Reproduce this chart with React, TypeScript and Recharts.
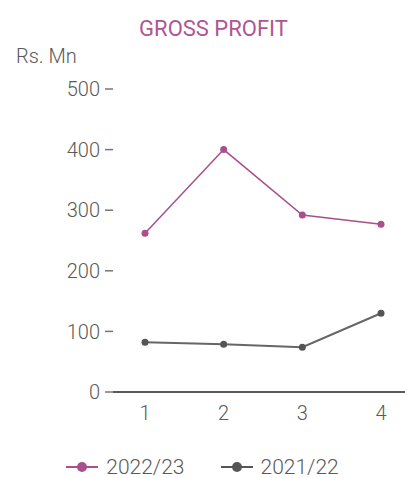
import { CartesianGrid, Legend, Line, LineChart, XAxis, YAxis } from "recharts";

const quarters = ["1", "2", "3", "4"];
const profit2223 = [262, 400, 292, 277];
const profit2122 = [82, 79, 74, 130];
const yTicks = [0, 100, 200, 300, 400, 500];

const PINK = "#a84f8c";
const GREY = "#555555";
const TEXT = "#5a5a5a";
const FONT = "Roboto, 'Open Sans', sans-serif";

const data = quarters.map((q, i) => ({ q, a: profit2223[i], b: profit2122[i] }));

const LegendContent = () => (
  <div style={ { display: "flex", justifyContent: "center", gap: 36, height: 22, alignItems: "center",
    fontFamily: FONT, fontWeight: 300, fontSize: 21, color: TEXT } }>
    { [{ name: "2022/23", color: PINK }, { name: "2021/22", color: GREY }].map((s) => (
      <div key={ s.name } style={ { display: "flex", alignItems: "center", gap: 8 } }>
        <svg width={ 32 } height={ 12 }>
          <line x1={ 0 } y1={ 6 } x2={ 32 } y2={ 6 } stroke={ s.color } strokeWidth={ 2 }/>
          <circle cx={ 16 } cy={ 6 } r={ 5 } fill={ s.color }/>
        </svg>
        <span>{ s.name }</span>
      </div>
    )) }
  </div>
);

const tickStyle = { fill: TEXT, stroke: "none", fontSize: 20, fontWeight: 300, fontFamily: FONT };

export default function App() {
  return (
    <div style={ { position: "absolute", left: 0, top: 0, width: 405, height: 478, fontFamily: FONT } }>
      <div style={ { position: "absolute", left: 0, width: 405, top: 16, textAlign: "center", paddingLeft: 22, boxSizing: "border-box",
        color: "#b05592", fontSize: 22, fontWeight: 400 } }>GROSS PROFIT</div>
      <div style={ { position: "absolute", left: 16, top: 44, color: TEXT, fontSize: 20, fontWeight: 300 } }>Rs. Mn</div>
      <LineChart width={ 405 } height={ 478 } data={ data } margin={ { top: 89, right: 0, left: 0, bottom: 0 } }>
        <CartesianGrid vertical={ false } horizontal={ false }/>
        <XAxis dataKey="q" padding={ { left: 32, right: 24 } } height={ 64 } tickLine={ false } tickMargin={ 8 }
          axisLine={ { stroke: "#222", strokeWidth: 1.5 } } tick={ tickStyle }/>
        <YAxis domain={ [0, 500] } ticks={ yTicks } width={ 113 } axisLine={ false } tickSize={ 8 } tickMargin={ 5 }
          tickLine={ { stroke: "#777", strokeWidth: 1.5 } } tick={ tickStyle }/>
        <Legend verticalAlign="bottom" content={ <LegendContent/> }/>
        <Line dataKey="a" name="2022/23" stroke={ PINK } strokeWidth={ 1.5 } dot={ { r: 3.5, fill: PINK, stroke: PINK, strokeWidth: 0 } }
          isAnimationActive={ false }/>
        <Line dataKey="b" name="2021/22" stroke="#666" strokeWidth={ 2 } dot={ { r: 3.5, fill: GREY, stroke: GREY, strokeWidth: 0 } }
          isAnimationActive={ false }/>
      </LineChart>
    </div>
  );
}
